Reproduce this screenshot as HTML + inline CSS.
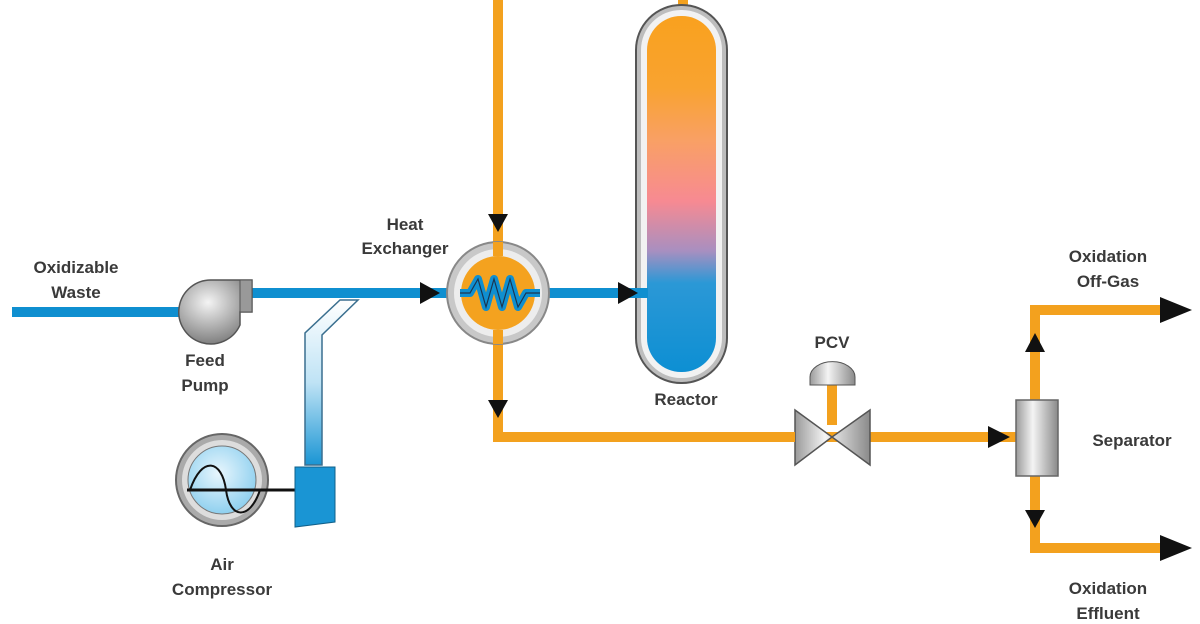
<!DOCTYPE html>
<html><head><meta charset="utf-8"><style>
body{margin:0;background:#fff}
svg{display:block}
text{font-family:"Liberation Sans",sans-serif;font-weight:bold;font-size:17px;fill:#3a3a3a;text-anchor:middle}
</style></head><body>
<svg width="1200" height="624" viewBox="0 0 1200 624" xmlns="http://www.w3.org/2000/svg">
<defs>
<linearGradient id="rg" x1="0" y1="0" x2="0" y2="1">
<stop offset="0" stop-color="#f9a11e"/><stop offset="0.2" stop-color="#f9a330"/>
<stop offset="0.35" stop-color="#f9a065"/>
<stop offset="0.52" stop-color="#f78a92"/><stop offset="0.66" stop-color="#a88fc0"/>
<stop offset="0.75" stop-color="#2b98d6"/><stop offset="1" stop-color="#0d8fd3"/>
</linearGradient>
<linearGradient id="gm" x1="0" y1="0" x2="1" y2="0">
<stop offset="0" stop-color="#9a9a9a"/><stop offset="0.4" stop-color="#f4f4f4"/><stop offset="1" stop-color="#8a8a8a"/>
</linearGradient>
<radialGradient id="pg" cx="0.4" cy="0.35" r="0.7">
<stop offset="0" stop-color="#f4f4f4"/><stop offset="1" stop-color="#777"/>
</radialGradient>
<radialGradient id="ac" cx="0.45" cy="0.4" r="0.6">
<stop offset="0" stop-color="#e8f6fd"/><stop offset="1" stop-color="#8fd0ef"/>
</radialGradient>
<linearGradient id="lb" x1="0" y1="0" x2="0" y2="1">
<stop offset="0" stop-color="#fff"/><stop offset="0.5" stop-color="#bfe3f5"/><stop offset="1" stop-color="#1a95d4"/>
</linearGradient>
</defs>

<!-- orange pipes -->
<g stroke="#f3a11e" stroke-width="10" fill="none">
<path d="M498 0 V437 H1020"/>
<path d="M683 0 V15"/>
<path d="M832 385 V425"/>
<path d="M1035 400 V310 H1170"/>
<path d="M1035 475 V548 H1170"/>
</g>
<!-- blue pipes -->
<g stroke="#0f8fd0" stroke-width="10" fill="none">
<path d="M12 312 H185"/>
<path d="M245 293 H650"/>
</g>
<!-- air line -->
<path d="M305 465 V333 L340 300 H358 L322 335 V465 Z" fill="url(#lb)" stroke="#3a6f8f" stroke-width="1.5"/>

<!-- reactor -->
<rect x="636" y="5" width="91" height="378" rx="45" fill="#bdbdbd" stroke="#555" stroke-width="2"/>
<rect x="641" y="10" width="81" height="368" rx="40" fill="#f2f2f2"/>
<rect x="647" y="16" width="69" height="356" rx="34" fill="url(#rg)"/>
<rect x="630" y="288" width="18" height="10" fill="#0f8fd0"/>

<!-- heat exchanger -->
<circle cx="498" cy="293" r="51" fill="#c8c8c8" stroke="#888" stroke-width="2"/>
<circle cx="498" cy="293" r="44" fill="#ededed"/>
<circle cx="498" cy="293" r="37" fill="#f4a21f"/>
<path d="M460 293 H470 L478 279 L486 307 L494 279 L502 307 L510 279 L518 307 L526 293 H540" stroke="#0f8fd0" stroke-width="8" fill="none" stroke-linejoin="round"/>
<path d="M460 293 H470 L478 279 L486 307 L494 279 L502 307 L510 279 L518 307 L526 293 H540" stroke="#1a3550" stroke-width="1.2" fill="none"/>
<rect x="493" y="242" width="10" height="14" fill="#f3a11e"/>
<rect x="493" y="330" width="10" height="14" fill="#f3a11e"/>

<!-- pump -->
<path d="M252 280 H212 A32 32 0 1 0 240 325 L240 312 H252 Z" fill="url(#pg)" stroke="#555" stroke-width="1.5"/>
<rect x="240" y="280" width="12" height="32" fill="#999" stroke="#555" stroke-width="1"/>

<!-- air compressor -->
<circle cx="222" cy="480" r="46" fill="#aaa" stroke="#666" stroke-width="2"/>
<circle cx="222" cy="480" r="40" fill="#ddd"/>
<circle cx="222" cy="480" r="34" fill="url(#ac)" stroke="#777" stroke-width="1"/>
<path d="M190 490 C202 455 222 460 226 490 C230 520 250 520 260 490" stroke="#111" stroke-width="2" fill="none"/>
<line x1="187" y1="490" x2="298" y2="490" stroke="#111" stroke-width="3"/>
<path d="M295 467 H335 V522 L295 527 Z" fill="#1a95d4" stroke="#10608a" stroke-width="1"/>

<!-- PCV -->
<path d="M810 385 V377 A22 15 0 0 1 855 377 V385 Z" fill="url(#gm)" stroke="#555"/>
<path d="M795 410 L832 437 L795 465 Z M870 410 L832 437 L870 465 Z" fill="url(#gm)" stroke="#555" stroke-width="1.5"/>
<rect x="786" y="432" width="9" height="10" fill="#f3a11e"/>

<!-- separator -->
<rect x="1016" y="400" width="42" height="76" fill="url(#gm)" stroke="#666" stroke-width="1.5"/>

<!-- arrowheads -->
<g fill="#111">
<path d="M420 282 L440 293 L420 304 Z"/>
<path d="M618 282 L638 293 L618 304 Z"/>
<path d="M488 214 L508 214 L498 232 Z"/>
<path d="M488 400 L508 400 L498 418 Z"/>
<path d="M988 426 L1010 437 L988 448 Z"/>
<path d="M1025 352 L1045 352 L1035 333 Z"/>
<path d="M1025 510 L1045 510 L1035 528 Z"/>
<path d="M1160 297 L1192 310 L1160 323 Z"/>
<path d="M1160 535 L1192 548 L1160 561 Z"/>
</g>

<!-- labels -->
<text x="76" y="273">Oxidizable</text>
<text x="76" y="298">Waste</text>
<text x="405" y="230">Heat</text>
<text x="405" y="254">Exchanger</text>
<text x="205" y="366">Feed</text>
<text x="205" y="391">Pump</text>
<text x="222" y="570">Air</text>
<text x="222" y="595">Compressor</text>
<text x="686" y="405">Reactor</text>
<text x="832" y="348">PCV</text>
<text x="1132" y="446">Separator</text>
<text x="1108" y="262">Oxidation</text>
<text x="1108" y="287">Off-Gas</text>
<text x="1108" y="594">Oxidation</text>
<text x="1108" y="619">Effluent</text>
</svg>
</body></html>
